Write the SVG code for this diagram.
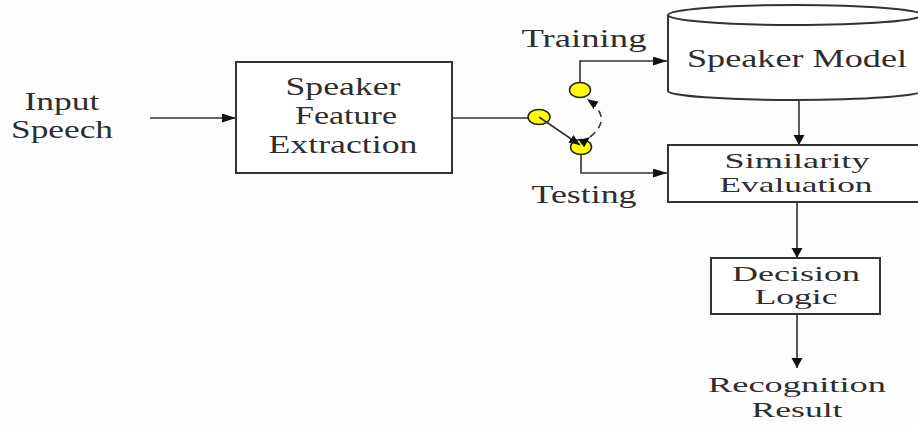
<svg xmlns="http://www.w3.org/2000/svg" width="918" height="426" viewBox="0 0 918 426">
  <defs>
    <marker id="arrowH" markerUnits="userSpaceOnUse" markerWidth="15" markerHeight="10" refX="14" refY="4.5" orient="auto">
      <path d="M0,0 L14,4.5 L0,9 z" fill="#111"/>
    </marker>
    <marker id="arrowV" markerUnits="userSpaceOnUse" markerWidth="11" markerHeight="12" refX="10" refY="5.5" orient="auto">
      <path d="M0,0 L10,5.5 L0,11 z" fill="#111"/>
    </marker>
    <marker id="arrowS" markerUnits="userSpaceOnUse" markerWidth="12" markerHeight="10" refX="11" refY="4.5" orient="auto">
      <path d="M0,0 L11,4.5 L0,9 z" fill="#111"/>
    </marker>
  </defs>
  <style>
    text { font-family: "Liberation Serif", "Times New Roman", serif; font-size: 25px; fill: #2e2e2e; text-anchor: middle; }
    .tight { font-size: 22px; }
    .box { fill: #fff; stroke: #333; stroke-width: 2; }
    .wire { fill: none; stroke: #333; stroke-width: 1.6; }
    .sw { fill: #ffff00; stroke: #222; stroke-width: 1.5; }
  </style>
  <rect x="0" y="0" width="918" height="426" fill="#fdfdfd"/>

  <g id="input-speech">
    <text x="62" y="110" textLength="75" lengthAdjust="spacingAndGlyphs">Input</text>
    <text x="62" y="138" textLength="102" lengthAdjust="spacingAndGlyphs">Speech</text>
  </g>

  <g id="feature-extraction">
    <rect class="box" x="236" y="62" width="216" height="111"/>
    <text x="343" y="95" textLength="115" lengthAdjust="spacingAndGlyphs">Speaker</text>
    <text x="346" y="124" textLength="102" lengthAdjust="spacingAndGlyphs">Feature</text>
    <text x="343" y="153" textLength="149" lengthAdjust="spacingAndGlyphs">Extraction</text>
  </g>

  <g id="speaker-model">
    <path class="box" d="M668,15 L668,91 A127,9 0 0 0 922,91 L922,15"/>
    <ellipse class="box" cx="795" cy="15" rx="127" ry="10"/>
    <text x="797" y="67" textLength="220" lengthAdjust="spacingAndGlyphs">Speaker Model</text>
  </g>

  <g id="similarity-evaluation">
    <rect class="box" x="668" y="145" width="256" height="57"/>
    <text class="tight" x="797" y="168" textLength="145" lengthAdjust="spacingAndGlyphs">Similarity</text>
    <text class="tight" x="796" y="192" textLength="153" lengthAdjust="spacingAndGlyphs">Evaluation</text>
  </g>

  <g id="decision-logic">
    <rect class="box" x="711" y="258" width="169" height="56"/>
    <text class="tight" x="796" y="281" textLength="128" lengthAdjust="spacingAndGlyphs">Decision</text>
    <text class="tight" x="796" y="304" textLength="83" lengthAdjust="spacingAndGlyphs">Logic</text>
  </g>

  <g id="recognition-result">
    <text class="tight" x="797" y="392" textLength="178" lengthAdjust="spacingAndGlyphs">Recognition</text>
    <text class="tight" x="797" y="417" textLength="91" lengthAdjust="spacingAndGlyphs">Result</text>
  </g>

  <g id="mode-labels">
    <text x="584" y="47" textLength="125" lengthAdjust="spacingAndGlyphs">Training</text>
    <text x="584" y="203" textLength="105" lengthAdjust="spacingAndGlyphs">Testing</text>
  </g>

  <g id="connectors">
    <line class="wire" x1="150" y1="118" x2="236" y2="118" marker-end="url(#arrowH)"/>
    <line class="wire" x1="452" y1="118" x2="539" y2="118"/>
    <polyline class="wire" points="580,90 580,61 667,61" marker-end="url(#arrowH)"/>
    <polyline class="wire" points="581,146 581,173 667,173" marker-end="url(#arrowH)"/>
    <line class="wire" x1="799" y1="100" x2="799" y2="145" marker-end="url(#arrowV)"/>
    <line class="wire" x1="797" y1="202" x2="797" y2="258" marker-end="url(#arrowV)"/>
    <line class="wire" x1="797" y1="314" x2="797" y2="368" marker-end="url(#arrowV)"/>
  </g>

  <g id="switch">
    <ellipse class="sw" cx="580" cy="90" rx="10.5" ry="7.5"/>
    <ellipse class="sw" cx="581" cy="147" rx="10.5" ry="7.5"/>
    <ellipse class="sw" cx="539" cy="117" rx="11" ry="7.5"/>
    <line class="wire" x1="539" y1="117" x2="580" y2="145" marker-end="url(#arrowS)"/>
    <path class="wire" d="M590,137 Q614,118 587,99" stroke-dasharray="7,5" marker-start="url(#arrowS)" marker-end="url(#arrowS)"/>
  </g>
</svg>
